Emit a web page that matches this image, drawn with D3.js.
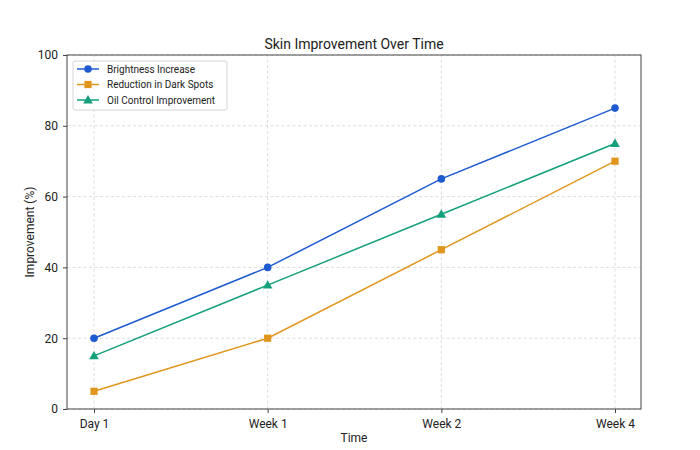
<!DOCTYPE html>
<html>
<head>
<meta charset="utf-8">
<script src="https://cdn.jsdelivr.net/npm/d3@7"></script>
<style>
  body { margin: 0; background: #fff; }
  svg text { font-family: Roboto, "Open Sans", sans-serif; fill: #222; }
</style>
</head>
<body>
<svg id="chart" width="700" height="450"></svg>
<script>
const timepoints = ["Day 1", "Week 1", "Week 2", "Week 4"];
const brightness = [20, 40, 65, 85];
const darkSpots = [5, 20, 45, 70];
const oilControl = [15, 35, 55, 75];
const yTicks = [0, 20, 40, 60, 80, 100];

const series = [
  { name: "Brightness Increase", values: brightness, color: "#1f5bd0", marker: "circle" },
  { name: "Reduction in Dark Spots", values: darkSpots, color: "#e0961c", marker: "square" },
  { name: "Oil Control Improvement", values: oilControl, color: "#14a07a", marker: "triangle" }
];

const svg = d3.select("#chart");
const margin = { left: 67, right: 59, top: 55, bottom: 41 };
const width = 700, height = 450;
const x0 = margin.left, x1 = width - margin.right;
const y0 = height - margin.bottom, y1 = margin.top;

// points sit inset from the frame, like matplotlib's 5% margin
const x = d3.scalePoint().domain(timepoints).range([x0 + 27, x1 - 26]);
const y = d3.scaleLinear().domain([0, 100]).range([y0, y1]);

// grid
svg.append("g").selectAll("line")
  .data(timepoints).enter().append("line")
  .attr("x1", d => x(d)).attr("x2", d => x(d))
  .attr("y1", y0).attr("y2", y1)
  .attr("stroke", "#d4d4d4").attr("stroke-dasharray", "3,2.5").attr("stroke-width", 0.8);
svg.append("g").selectAll("line")
  .data(yTicks).enter().append("line")
  .attr("x1", x0).attr("x2", x1)
  .attr("y1", d => y(d)).attr("y2", d => y(d))
  .attr("stroke", "#d4d4d4").attr("stroke-dasharray", "3,2.5").attr("stroke-width", 0.8);

// frame
svg.append("rect")
  .attr("x", x0).attr("y", y1).attr("width", x1 - x0).attr("height", y0 - y1)
  .attr("fill", "none").attr("stroke", "#444").attr("stroke-width", 1);

// axes
const xAxis = svg.append("g").attr("transform", `translate(0,${y0})`)
  .call(d3.axisBottom(x).tickSize(4).tickPadding(6));
const yAxis = svg.append("g").attr("transform", `translate(${x0},0)`)
  .call(d3.axisLeft(y).tickValues(yTicks).tickSize(4).tickPadding(5));
[xAxis, yAxis].forEach(g => {
  g.select(".domain").remove();
  g.selectAll(".tick line").attr("stroke", "#444");
  g.selectAll(".tick text").style("font-size", "12px").style("font-family", "Roboto, sans-serif").attr("fill", "#222");
});

// lines
const line = d3.line().x((d, i) => x(timepoints[i])).y(d => y(d));
series.forEach(s => {
  svg.append("path")
    .datum(s.values)
    .attr("d", line)
    .attr("fill", "none")
    .attr("stroke", s.color)
    .attr("stroke-width", 1.5);
});

function drawMarker(g, type, cx, cy, color) {
  if (type === "circle") {
    g.append("circle").attr("cx", cx).attr("cy", cy).attr("r", 3.8).attr("fill", color);
  } else if (type === "square") {
    g.append("rect").attr("x", cx - 3.6).attr("y", cy - 3.6).attr("width", 7.2).attr("height", 7.2).attr("fill", color);
  } else {
    g.append("path").attr("d", d3.symbol().type(d3.symbolTriangle).size(40)).attr("transform", `translate(${cx},${cy + 0.6})`).attr("fill", color);
  }
}

series.forEach(s => {
  const g = svg.append("g");
  s.values.forEach((v, i) => drawMarker(g, s.marker, x(timepoints[i]), y(v), s.color));
});

// title and labels
svg.append("text")
  .attr("x", (x0 + x1) / 2).attr("y", 49)
  .attr("text-anchor", "middle")
  .style("font-size", "14px")
  .text("Skin Improvement Over Time");
svg.append("text")
  .attr("x", (x0 + x1) / 2).attr("y", 442)
  .attr("text-anchor", "middle")
  .style("font-size", "12px")
  .text("Time");
svg.append("text")
  .attr("transform", `translate(34,${(y0 + y1) / 2}) rotate(-90)`)
  .attr("text-anchor", "middle")
  .style("font-size", "12px")
  .text("Improvement (%)");

// legend
const legend = svg.append("g").attr("transform", "translate(73,61)");
legend.append("rect")
  .attr("width", 154).attr("height", 49).attr("rx", 2)
  .attr("fill", "#fff").attr("fill-opacity", 0.85)
  .attr("stroke", "#d6d6d6");
series.forEach((s, i) => {
  const ly = 8 + i * 15.5;
  legend.append("line").attr("x1", 4).attr("x2", 26).attr("y1", ly).attr("y2", ly)
    .attr("stroke", s.color).attr("stroke-width", 1.5);
  drawMarker(legend, s.marker, 15, ly, s.color);
  legend.append("text").attr("x", 34).attr("y", ly + 3.5)
    .style("font-size", "10px").text(s.name);
});
</script>
</body>
</html>
